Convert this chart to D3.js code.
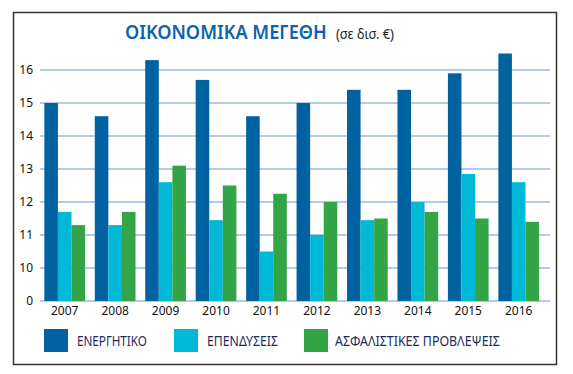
<!DOCTYPE html>
<html>
<head>
<meta charset="utf-8">
<script src="https://cdn.jsdelivr.net/npm/d3@7"></script>
<style>
  body { margin: 0; background: #fff; }
  text { font-family: "Noto Sans", "Open Sans", sans-serif; }
</style>
</head>
<body>
<div id="chart"></div>
<script>
// data
const years = ["2007", "2008", "2009", "2010", "2011", "2012", "2013", "2014", "2015", "2016"];
const energitiko = [15.0, 14.6, 16.3, 15.7, 14.6, 15.0, 15.4, 15.4, 15.9, 16.5];
const ependyseis = [11.7, 11.3, 12.6, 11.45, 10.5, 11.0, 11.45, 12.0, 12.85, 12.6];
const provlepseis = [11.3, 11.7, 13.1, 12.5, 12.25, 12.0, 11.5, 11.7, 11.5, 11.4];
const seriesNames = ["ΕΝΕΡΓΗΤΙΚΟ", "ΕΠΕΝΔΥΣΕΙΣ", "ΑΣΦΑΛΙΣΤΙΚΕΣ ΠΡΟΒΛΕΨΕΙΣ"];
const yTicks = [9, 10, 11, 12, 13, 14, 15, 16];   // 9 is the broken-axis base, shown as "0"

const colors = ["#0062a1", "#00b9d7", "#34a547"];
const series = [energitiko, ependyseis, provlepseis];

const W = 573, H = 374;
const svg = d3.select("#chart").append("svg")
  .attr("width", W).attr("height", H);

// squeeze a text horizontally to a target width (original font is condensed)
function squeeze(sel, x, yPos, target) {
  const w = sel.node().getComputedTextLength();
  sel.attr("transform", "translate(" + x + "," + yPos + ") scale(" + (target / w) + ",1)");
}

// frame
svg.append("rect")
  .attr("x", 13.5).attr("y", 12.5)
  .attr("width", 543).attr("height", 352)
  .attr("fill", "#fff").attr("stroke", "#333").attr("stroke-width", 1.5);

// title
const title = svg.append("text")
  .attr("font-size", 20).attr("font-weight", 600).attr("fill", "#0b62ad")
  .text("ΟΙΚΟΝΟΜΙΚΑ ΜΕΓΕΘΗ");
squeeze(title, 125, 39, 202);
const subtitle = svg.append("text")
  .attr("font-size", 14).attr("fill", "#222")
  .text("(σε δισ. €)");
squeeze(subtitle, 336, 39, 58);

// scales
const plotLeft = 40, plotRight = 550, baseY = 301;
const y = d3.scaleLinear().domain([9, 16]).range([baseY, 70]);
const x0 = d3.scaleBand().domain(years)
  .range([39.3, 544.1]).paddingInner(0.193).paddingOuter(0.1);
const x1 = d3.scaleBand().domain([0, 1, 2]).range([0, x0.bandwidth()]);

// gridlines
svg.append("g")
  .selectAll("line")
  .data(yTicks)
  .enter().append("line")
  .attr("x1", plotLeft).attr("x2", plotRight)
  .attr("y1", d => y(d)).attr("y2", d => y(d))
  .attr("stroke", "#b4cbe8").attr("stroke-width", 2);

// y axis labels
const yAxis = svg.append("g")
  .attr("transform", "translate(" + (plotLeft - 4) + ",0)")
  .call(d3.axisLeft(y).tickValues(yTicks).tickSize(0)
    .tickFormat(d => d === 9 ? "0" : d));
yAxis.select(".domain").remove();
yAxis.selectAll("text")
  .attr("font-size", 12).attr("fill", "#111")
  .style("font-family", "'Noto Sans', sans-serif");

// x axis labels
const xAxis = svg.append("g")
  .attr("transform", "translate(0," + baseY + ")")
  .call(d3.axisBottom(x0).tickSize(0).tickPadding(5));
xAxis.select(".domain").remove();
xAxis.selectAll("text")
  .attr("font-size", 12).attr("fill", "#111")
  .style("font-family", "'Noto Sans', sans-serif");

// bars
const groups = svg.append("g")
  .selectAll("g")
  .data(years)
  .enter().append("g")
  .attr("transform", d => "translate(" + x0(d) + ",0)");

groups.selectAll("rect")
  .data((d, i) => series.map((s, k) => ({k: k, v: s[i]})))
  .enter().append("rect")
  .attr("x", d => x1(d.k))
  .attr("width", x1.bandwidth())
  .attr("y", d => y(d.v))
  .attr("height", d => baseY - y(d.v))
  .attr("fill", d => colors[d.k]);

// legend
const legendX = [44, 174, 304];
const legendW = [70, 71, 165];
const legend = svg.append("g")
  .selectAll("g")
  .data(seriesNames)
  .enter().append("g")
  .attr("transform", (d, i) => "translate(" + legendX[i] + ",329)");
legend.append("rect")
  .attr("width", 24).attr("height", 23)
  .attr("fill", (d, i) => colors[i]);
legend.append("text")
  .attr("font-size", 14).attr("fill", "#1d2a5c")
  .text(d => d)
  .each(function(d, i) {
    squeeze(d3.select(this), i === 2 ? 31 : 33, 17, legendW[i]);
  });
</script>
</body>
</html>
